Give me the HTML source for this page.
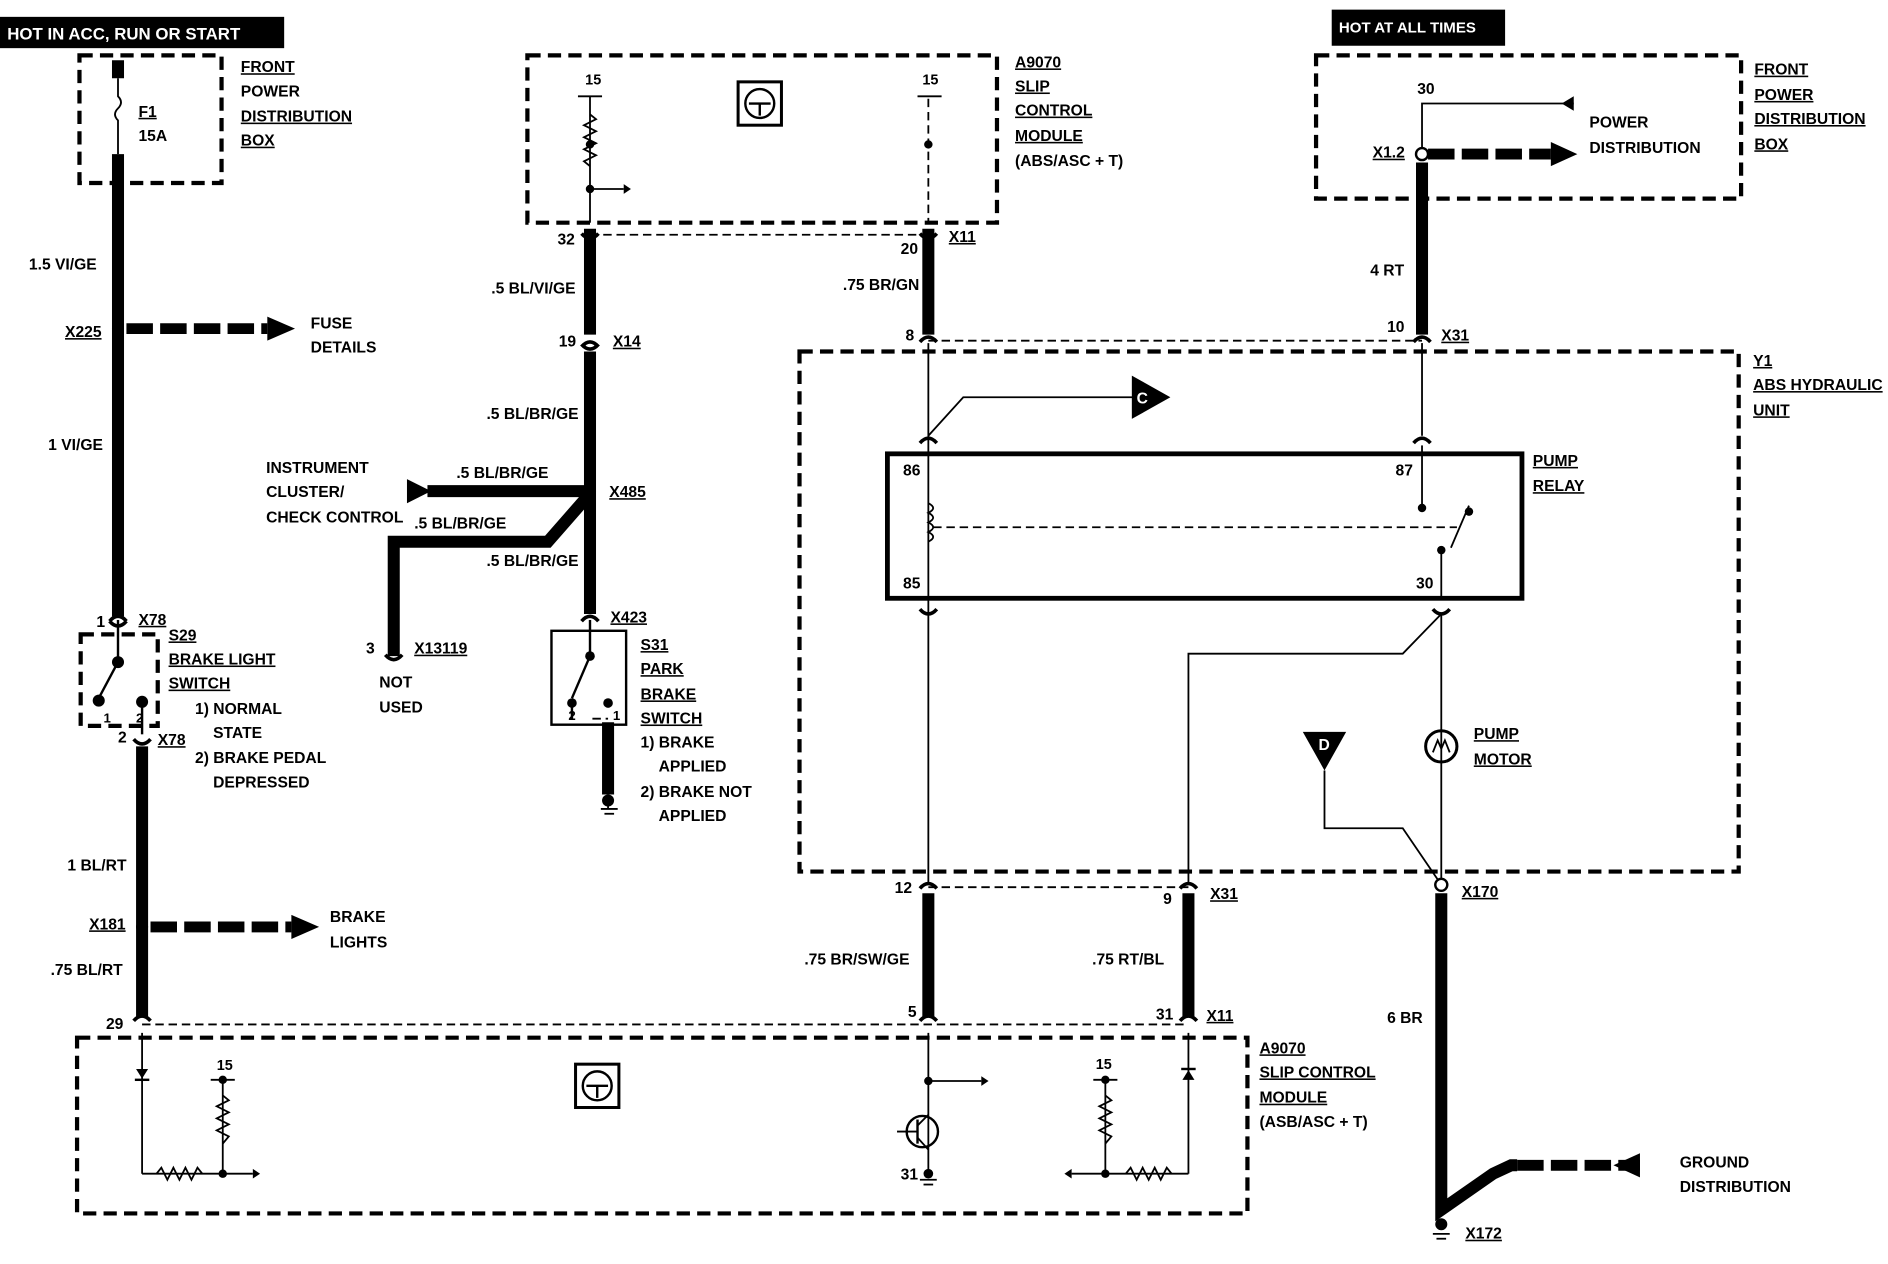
<!DOCTYPE html>
<html><head><meta charset="utf-8"><style>
html,body{margin:0;padding:0;background:#fff}
svg{display:block}
text{font-family:"Liberation Sans",sans-serif;font-weight:bold;font-size:13px;fill:#000}
.u{text-decoration:underline}
</style></head><body>
<svg width="1888" height="1264" viewBox="0 0 1568 1050" preserveAspectRatio="none" xmlns="http://www.w3.org/2000/svg">
<defs>
<g id="cup"><path d="M-7,-4 Q0,-12 7,-4" fill="none" stroke="#000" stroke-width="3"/></g>
<g id="cap"><path d="M-7,4 Q0,12 7,4" fill="none" stroke="#000" stroke-width="3"/></g>
</defs>
<g fill="none" stroke="#000">
<g stroke-width="3.5" stroke-dasharray="11,6">
<rect x="66" y="46" width="118" height="106"/>
<rect x="438" y="46" width="390" height="139"/>
<rect x="1093" y="46" width="353" height="119"/>
<rect x="664" y="292" width="780" height="432"/>
<rect x="64" y="862" width="972" height="146"/>
<rect x="67" y="527" width="64" height="76"/>
</g>
<g stroke-width="1.5" stroke-dasharray="7,4">
<line x1="490" y1="195" x2="771" y2="195"/>
<line x1="771" y1="283" x2="1181" y2="283"/>
<line x1="771" y1="737" x2="987" y2="737"/>
<line x1="118" y1="851" x2="987" y2="851"/>
<line x1="775" y1="438" x2="1210" y2="438"/>
<line x1="771" y1="82" x2="771" y2="185"/>
<line x1="492" y1="597" x2="505" y2="597"/>
</g>
<g stroke-width="10">
<line x1="98" y1="50" x2="98" y2="65"/>
<line x1="98" y1="128" x2="98" y2="512"/>
<line x1="118" y1="620" x2="118" y2="845"/>
<line x1="490" y1="190" x2="490" y2="278"/>
<line x1="490" y1="292" x2="490" y2="510"/>
<polyline points="490,410 455,450 327,450 327,545"/>
<line x1="355" y1="408" x2="490" y2="408"/>
<line x1="771" y1="190" x2="771" y2="278"/>
<line x1="771" y1="742" x2="771" y2="845"/>
<line x1="987" y1="742" x2="987" y2="845"/>
<line x1="1181" y1="135" x2="1181" y2="278"/>
<polyline points="1197,742 1197,1005 1240,975 1255,968 1260,968"/>
<line x1="505" y1="600" x2="505" y2="660"/>
</g>
<g stroke-width="9" stroke-dasharray="22,6">
<line x1="105" y1="273" x2="222" y2="273"/>
<line x1="125" y1="770" x2="242" y2="770"/>
<line x1="1186" y1="128" x2="1288" y2="128"/>
<line x1="1260" y1="968" x2="1362" y2="968"/>
</g>
<g stroke-width="1.5">
<line x1="771" y1="285" x2="771" y2="735"/>
<line x1="1181" y1="285" x2="1181" y2="362"/>
<line x1="1181" y1="370" x2="1181" y2="420"/>
<polyline points="1181,124 1181,86 1307,86"/>
<polyline points="771,362 800,330 945,330"/>
<line x1="1197" y1="510" x2="1197" y2="735"/>
<polyline points="987,735 987,543 1165,543 1197,510"/>
<polyline points="1100,640 1100,688 1165,688 1197,735"/>
<line x1="490" y1="80" x2="490" y2="185"/>
<line x1="480" y1="80" x2="500" y2="80"/>
<line x1="762" y1="80" x2="782" y2="80"/>
<line x1="490" y1="157" x2="518" y2="157"/>
<line x1="1205" y1="455" x2="1220" y2="420"/>
<line x1="1197" y1="458" x2="1197" y2="497"/>
<line x1="771" y1="858" x2="771" y2="975"/>
<line x1="771" y1="898" x2="815" y2="898"/>
<line x1="987" y1="858" x2="987" y2="975"/>
<polyline points="987,975 918,975 890,975"/>
<line x1="918" y1="897" x2="918" y2="975"/>
<line x1="908" y1="897" x2="928" y2="897"/>
<line x1="118" y1="858" x2="118" y2="975"/>
<line x1="118" y1="975" x2="210" y2="975"/>
<line x1="185" y1="897" x2="185" y2="975"/>
<line x1="175" y1="897" x2="195" y2="897"/>
<line x1="499" y1="672" x2="513" y2="672"/><line x1="502" y1="676" x2="510" y2="676"/><line x1="505" y1="665" x2="505" y2="672"/>
<line x1="764" y1="980" x2="778" y2="980"/><line x1="767" y1="984" x2="775" y2="984"/>
<line x1="1190" y1="1025" x2="1204" y2="1025"/><line x1="1193" y1="1029" x2="1201" y2="1029"/>
</g>
<g stroke-width="1.5">
<polyline points="490,95 495,99 485,104 495,109 485,114 495,119 485,124 495,129 485,134 490,138"/>
<polyline points="185,910 190,914 180,919 190,924 180,929 190,934 180,939 190,944 185,950"/>
<polyline points="918,910 923,914 913,919 923,924 913,929 923,934 913,939 923,944 918,950"/>
<polyline points="130,975 134,970 139,980 144,970 149,980 154,970 159,980 164,970 168,975"/>
<polyline points="935,975 939,970 944,980 949,970 954,980 959,970 964,980 969,970 973,975"/>
<path d="M771,418 q8,4 0,8 q8,4 0,8 q8,4 0,8 q8,4 0,8" stroke-width="1.5"/>
</g>
<path d="M98,65 L98,80 q5,5 0,10 q-5,5 0,10 L98,128" stroke-width="1.5"/>
<rect x="737" y="377" width="527" height="120" stroke-width="4"/>
<rect x="458" y="524" width="62" height="78" stroke-width="2"/>
<line x1="98" y1="515" x2="98" y2="548" stroke-width="2"/>
<line x1="98" y1="550" x2="82" y2="580" stroke-width="2"/>
<line x1="118" y1="583" x2="118" y2="610" stroke-width="2"/>
<line x1="490" y1="515" x2="490" y2="545" stroke-width="2"/>
<line x1="490" y1="545" x2="475" y2="580" stroke-width="2"/>
<line x1="475" y1="585" x2="475" y2="598" stroke-width="2"/>
<circle cx="1197" cy="620" r="13" stroke-width="2.5"/>
<path d="M1190,625 L1194,615 L1197,622 L1200,615 L1204,625" stroke-width="1.5"/>
<circle cx="766" cy="940" r="13" stroke-width="2"/>
<line x1="745" y1="940" x2="762" y2="940" stroke-width="1.5"/>
<line x1="762" y1="930" x2="762" y2="950" stroke-width="2"/>
<line x1="762" y1="935" x2="771" y2="926" stroke-width="1.5"/>
<line x1="762" y1="945" x2="771" y2="955" stroke-width="1.5"/>
<rect x="613" y="68" width="36" height="36" stroke-width="2.5"/><circle cx="631" cy="86" r="12" stroke-width="2"/>
<path d="M622,86 L640,86 M631,86 L631,96" stroke-width="2"/>
<rect x="478" y="884" width="36" height="36" stroke-width="2.5"/><circle cx="496" cy="902" r="12" stroke-width="2"/>
<path d="M487,902 L505,902 M496,902 L496,912" stroke-width="2"/>
<use href="#cup" x="98" y="520"/><use href="#cap" x="118" y="610"/>
<use href="#cap" x="490" y="190"/><use href="#cup" x="490" y="292"/><use href="#cap" x="490" y="282"/><use href="#cup" x="490" y="520"/>
<use href="#cap" x="771" y="190"/><use href="#cup" x="771" y="288"/>
<use href="#cup" x="771" y="372"/><use href="#cap" x="771" y="502"/>
<use href="#cup" x="1181" y="372"/><use href="#cap" x="1197" y="502"/>
<use href="#cup" x="1181" y="288"/>
<use href="#cup" x="771" y="742"/><use href="#cup" x="987" y="742"/>
<use href="#cup" x="771" y="852"/><use href="#cup" x="987" y="852"/><use href="#cup" x="118" y="852"/>
<use href="#cap" x="98" y="512"/><use href="#cap" x="327" y="540"/>
</g>
<g fill="#000">
<rect x="0" y="14" width="236" height="26"/>
<rect x="1106" y="8" width="144" height="30"/>
<circle cx="98" cy="273" r="5"/><circle cx="118" cy="770" r="5"/><circle cx="490" cy="408" r="5"/>
<circle cx="98" cy="550" r="5"/><circle cx="82" cy="582" r="5"/><circle cx="118" cy="583" r="5"/>
<circle cx="490" cy="545" r="4"/><circle cx="475" cy="584" r="4"/><circle cx="505" cy="584" r="4"/>
<circle cx="490" cy="120" r="3.5"/><circle cx="490" cy="157" r="3.5"/><circle cx="771" cy="120" r="3.5"/>
<circle cx="1181" cy="422" r="3.5"/><circle cx="1220" cy="425" r="3.5"/><circle cx="1197" cy="457" r="3.5"/>
<circle cx="771" cy="898" r="3.5"/><circle cx="185" cy="897" r="3.5"/><circle cx="185" cy="975" r="3.5"/><circle cx="918" cy="897" r="3.5"/><circle cx="918" cy="975" r="3.5"/>
<circle cx="505" cy="665" r="5"/><circle cx="771" cy="975" r="4"/><circle cx="1197" cy="1017" r="5"/>
<polygon points="222,263 245,273 222,283"/><polygon points="242,760 265,770 242,780"/>
<polygon points="1288,118 1310,128 1288,138"/><polygon points="1362,958 1340,968 1362,978"/>
<polygon points="338,398 358,408 338,418"/>
<polygon points="940,312 972,330 940,348"/>
<polygon points="1082,608 1118,608 1100,640"/>
<polygon points="1307,80 1297,86 1307,92"/>
<polygon points="518,153 524,157 518,161"/><polygon points="815,894 821,898 815,902"/>
<polygon points="210,971 216,975 210,979"/><polygon points="890,971 884,975 890,979"/>
<polygon points="113,888 123,888 118,896"/><rect x="112" y="896" width="12" height="2"/>
<polygon points="982,897 992,897 987,889"/><rect x="981" y="887" width="12" height="2"/>
</g>
<circle cx="1181" cy="128" r="5" fill="#fff" stroke="#000" stroke-width="2"/>
<circle cx="1197" cy="735" r="5" fill="#fff" stroke="#000" stroke-width="2"/>
<text x="944" y="335" style="fill:#fff">C</text>
<text x="1095" y="623" style="fill:#fff">D</text>
<text x="6" y="33" style="fill:#fff;font-size:14px">HOT IN ACC, RUN OR START</text>
<text x="1112" y="27" style="fill:#fff;font-size:12.5px">HOT AT ALL TIMES</text>
<text x="200" y="60" class="u">FRONT</text><text x="200" y="80">POWER</text><text x="200" y="101" class="u">DISTRIBUTION</text><text x="200" y="121" class="u">BOX</text>
<text x="115" y="97" class="u">F1</text><text x="115" y="117">15A</text>
<text x="24" y="224">1.5 VI/GE</text>
<text x="54" y="280" class="u">X225</text>
<text x="258" y="273">FUSE</text><text x="258" y="293">DETAILS</text>
<text x="40" y="374">1 VI/GE</text>
<text x="80" y="521">1</text><text x="115" y="519" class="u">X78</text>
<text x="140" y="532" class="u">S29</text><text x="140" y="552" class="u">BRAKE LIGHT</text><text x="140" y="572" class="u">SWITCH</text>
<text x="162" y="593">1) NORMAL</text><text x="177" y="613">STATE</text><text x="162" y="634">2) BRAKE PEDAL</text><text x="177" y="654">DEPRESSED</text>
<text x="98" y="617">2</text><text x="131" y="619" class="u">X78</text>
<text x="86" y="600" style="font-size:11px">1</text><text x="113" y="600" style="font-size:11px">2</text>
<text x="56" y="723">1 BL/RT</text>
<text x="74" y="772" class="u">X181</text>
<text x="274" y="766">BRAKE</text><text x="274" y="787">LIGHTS</text>
<text x="42" y="810">.75 BL/RT</text>
<text x="88" y="855">29</text>
<text x="486" y="70" style="font-size:12px">15</text><text x="766" y="70" style="font-size:12px">15</text>
<text x="843" y="56" class="u">A9070</text><text x="843" y="76" class="u">SLIP</text><text x="843" y="96" class="u">CONTROL</text><text x="843" y="117" class="u">MODULE</text><text x="843" y="138">(ABS/ASC + T)</text>
<text x="463" y="203">32</text>
<text x="408" y="244">.5 BL/VI/GE</text>
<text x="464" y="288">19</text><text x="509" y="288" class="u">X14</text>
<text x="404" y="348">.5 BL/BR/GE</text>
<text x="221" y="393">INSTRUMENT</text><text x="221" y="413">CLUSTER/</text><text x="221" y="434">CHECK CONTROL</text>
<text x="379" y="397">.5 BL/BR/GE</text>
<text x="344" y="439">.5 BL/BR/GE</text>
<text x="404" y="470">.5 BL/BR/GE</text>
<text x="506" y="413" class="u">X485</text>
<text x="507" y="517" class="u">X423</text>
<text x="304" y="543">3</text><text x="344" y="543" class="u">X13119</text>
<text x="315" y="571">NOT</text><text x="315" y="592">USED</text>
<text x="532" y="540" class="u">S31</text><text x="532" y="560" class="u">PARK</text><text x="532" y="581" class="u">BRAKE</text><text x="532" y="601" class="u">SWITCH</text>
<text x="532" y="621">1) BRAKE</text><text x="547" y="641">APPLIED</text><text x="532" y="662">2) BRAKE NOT</text><text x="547" y="682">APPLIED</text>
<text x="472" y="598" style="font-size:11px">2</text><text x="509" y="598" style="font-size:11px">1</text>
<text x="748" y="211">20</text><text x="788" y="201" class="u">X11</text>
<text x="700" y="241">.75 BR/GN</text>
<text x="752" y="283">8</text>
<text x="750" y="395">86</text><text x="750" y="489">85</text>
<text x="1159" y="395">87</text><text x="1176" y="489">30</text>
<text x="1273" y="387" class="u">PUMP</text><text x="1273" y="408" class="u">RELAY</text>
<text x="1177" y="78">30</text>
<text x="1140" y="131" class="u">X1.2</text>
<text x="1320" y="106">POWER</text><text x="1320" y="127">DISTRIBUTION</text>
<text x="1457" y="62" class="u">FRONT</text><text x="1457" y="83" class="u">POWER</text><text x="1457" y="103" class="u">DISTRIBUTION</text><text x="1457" y="124" class="u">BOX</text>
<text x="1138" y="229">4 RT</text>
<text x="1152" y="276">10</text><text x="1197" y="283" class="u">X31</text>
<text x="1456" y="304" class="u">Y1</text><text x="1456" y="324" class="u">ABS HYDRAULIC</text><text x="1456" y="345" class="u">UNIT</text>
<text x="1224" y="614" class="u">PUMP</text><text x="1224" y="635" class="u">MOTOR</text>
<text x="1214" y="745" class="u">X170</text>
<text x="743" y="742">12</text>
<text x="966" y="751">9</text><text x="1005" y="747" class="u">X31</text>
<text x="668" y="801">.75 BR/SW/GE</text>
<text x="907" y="801">.75 RT/BL</text>
<text x="754" y="845">5</text>
<text x="960" y="847">31</text><text x="1002" y="848" class="u">X11</text>
<text x="1152" y="850">6 BR</text>
<text x="1046" y="875" class="u">A9070</text><text x="1046" y="895" class="u">SLIP CONTROL</text><text x="1046" y="916" class="u">MODULE</text><text x="1046" y="936">(ASB/ASC + T)</text>
<text x="180" y="889" style="font-size:12px">15</text><text x="910" y="888" style="font-size:12px">15</text>
<text x="748" y="980">31</text>
<text x="1395" y="970">GROUND</text><text x="1395" y="990">DISTRIBUTION</text>
<text x="1217" y="1029" class="u">X172</text>
</svg>
</body></html>
